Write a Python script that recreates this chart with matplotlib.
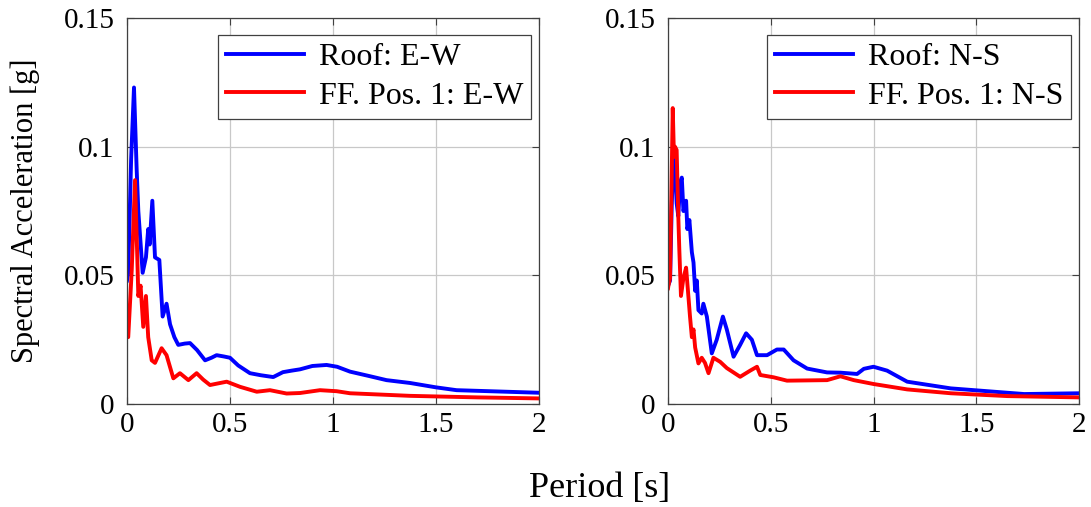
import matplotlib
matplotlib.use("Agg")
from matplotlib import pyplot as plt

plt.rcParams['font.family'] = ['Liberation Serif', 'DejaVu Serif']

# Roof E-W (blue, left)
t_roof_ew = [0.0, 0.006, 0.02, 0.034, 0.047, 0.055, 0.076, 0.092, 0.103, 0.11, 0.123, 0.136,
             0.157, 0.173, 0.192, 0.209, 0.23, 0.249, 0.28, 0.306, 0.34, 0.379, 0.41, 0.435,
             0.47, 0.5, 0.54, 0.597, 0.65, 0.71, 0.757, 0.8, 0.84, 0.9, 0.969, 1.02, 1.083,
             1.17, 1.26, 1.374, 1.5, 1.6, 1.8, 2.0]
sa_roof_ew = [0.048, 0.051, 0.095, 0.123, 0.091, 0.075, 0.051, 0.057, 0.068, 0.062, 0.079, 0.057,
              0.056, 0.034, 0.039, 0.031, 0.026, 0.023, 0.0235, 0.0237, 0.021, 0.017, 0.018, 0.019,
              0.0185, 0.018, 0.015, 0.012, 0.0112, 0.0105, 0.0124, 0.013, 0.0135, 0.0148, 0.0152, 0.0145, 0.0126,
              0.011, 0.0093, 0.0082, 0.0065, 0.0054, 0.0049, 0.0044]

# FF. Pos. 1 E-W (red, left)
t_ff_ew = [0.0, 0.006, 0.023, 0.039, 0.05, 0.055, 0.066, 0.079, 0.092, 0.103, 0.12, 0.136,
           0.168, 0.192, 0.225, 0.257, 0.298, 0.338, 0.37, 0.403, 0.44, 0.484, 0.549, 0.63,
           0.694, 0.775, 0.84, 0.937, 1.018, 1.083, 1.2, 1.374, 1.7, 2.0]
sa_ff_ew = [0.027, 0.026, 0.052, 0.087, 0.057, 0.042, 0.046, 0.030, 0.042, 0.026, 0.017, 0.016,
            0.0217, 0.019, 0.010, 0.012, 0.0093, 0.012, 0.0095, 0.0074, 0.008, 0.0087, 0.0067, 0.0048,
            0.0054, 0.0041, 0.0043, 0.0054, 0.005, 0.0042, 0.0038, 0.0032, 0.0026, 0.0022]

# Roof N-S (blue, right)
t_roof_ns = [0.0, 0.01, 0.018, 0.026, 0.034, 0.042, 0.05, 0.059, 0.067, 0.075, 0.088, 0.094,
             0.104, 0.116, 0.124, 0.132, 0.14, 0.148, 0.164, 0.172, 0.189, 0.213, 0.237, 0.267,
             0.286, 0.319, 0.351, 0.38, 0.408, 0.433, 0.482, 0.53, 0.563, 0.611, 0.677, 0.774,
             0.839, 0.92, 0.953, 1.0, 1.066, 1.164, 1.376, 1.733, 2.0]
sa_roof_ns = [0.046, 0.048, 0.077, 0.096, 0.092, 0.078, 0.073, 0.086, 0.088, 0.075, 0.079, 0.068,
              0.0715, 0.059, 0.055, 0.044, 0.048, 0.0365, 0.0352, 0.039, 0.034, 0.0197, 0.025, 0.034,
              0.029, 0.0184, 0.023, 0.0275, 0.025, 0.019, 0.019, 0.0212, 0.0212, 0.017, 0.0138, 0.0123,
              0.0122, 0.0117, 0.0137, 0.0145, 0.013, 0.0087, 0.0061, 0.0039, 0.0042]

# FF. Pos. 1 N-S (red, right)
t_ff_ns = [0.0, 0.002, 0.01, 0.023, 0.029, 0.034, 0.042, 0.05, 0.055, 0.063, 0.075, 0.088,
           0.099, 0.107, 0.116, 0.124, 0.132, 0.148, 0.164, 0.18, 0.197, 0.221, 0.254, 0.286,
           0.351, 0.4, 0.433, 0.449, 0.514, 0.579, 0.774, 0.839, 0.904, 1.0, 1.164, 1.376,
           1.652, 2.0]
sa_ff_ns = [0.045, 0.046, 0.049, 0.115, 0.096, 0.1, 0.0987, 0.073, 0.06, 0.042, 0.049, 0.053,
            0.042, 0.034, 0.026, 0.029, 0.022, 0.0158, 0.018, 0.016, 0.012, 0.018, 0.0164, 0.014,
            0.0106, 0.013, 0.0145, 0.0113, 0.0104, 0.0091, 0.0093, 0.0108, 0.0093, 0.0078, 0.0057, 0.0042,
            0.0031, 0.0026]

panels = [
    (t_roof_ew, sa_roof_ew, 'Roof: E-W', t_ff_ew, sa_ff_ew, 'FF. Pos. 1: E-W'),
    (t_roof_ns, sa_roof_ns, 'Roof: N-S', t_ff_ns, sa_ff_ns, 'FF. Pos. 1: N-S'),
]

fig = plt.figure(figsize=(10.91, 5.07), dpi=100)
positions = [[0.1164, 0.203, 0.3776, 0.7615], [0.6123, 0.203, 0.3767, 0.7615]]

for k, (t1, s1, l1, t2, s2, l2) in enumerate(panels):
    ax = fig.add_axes(positions[k])
    ax.plot(t1, s1, color='#0000ff', lw=2.8, label=l1, solid_joinstyle='round')
    ax.plot(t2, s2, color='#ff0000', lw=2.8, label=l2, solid_joinstyle='round')
    ax.set_xlim(0, 2)
    ax.set_ylim(0, 0.15)
    ax.set_xticks([0, 0.5, 1, 1.5, 2])
    ax.set_xticklabels(['0', '0.5', '1', '1.5', '2'])
    ax.set_yticks([0, 0.05, 0.1, 0.15])
    ax.set_yticklabels(['0', '0.05', '0.1', '0.15'])
    ax.grid(True, color='#c8c8c8', lw=0.9)
    ax.tick_params(direction='in', top=True, right=True, labelsize=21,
                   color='#404040', length=5)
    ax.tick_params(axis='y', pad=9)
    ax.tick_params(axis='x', pad=6)
    for sp in ax.spines.values():
        sp.set_color('#404040')
        sp.set_linewidth(0.9)
    leg = ax.legend(loc='upper right', bbox_to_anchor=(0.981, 0.956), fontsize=23,
                    fancybox=False, framealpha=1, edgecolor='#404040',
                    handlelength=2.45, borderaxespad=0, borderpad=0.25,
                    labelspacing=0.28, handletextpad=0.45)
    leg.get_frame().set_linewidth(0.9)
    if k == 0:
        ax.set_ylabel('Spectral Acceleration [g]', fontsize=22)
        ax.yaxis.set_label_coords(-0.21, 0.5)

fig.text(0.55, 0.037, 'Period [s]', ha='center', va='center', fontsize=26)
fig.savefig('out.png', dpi=100, facecolor='white')
